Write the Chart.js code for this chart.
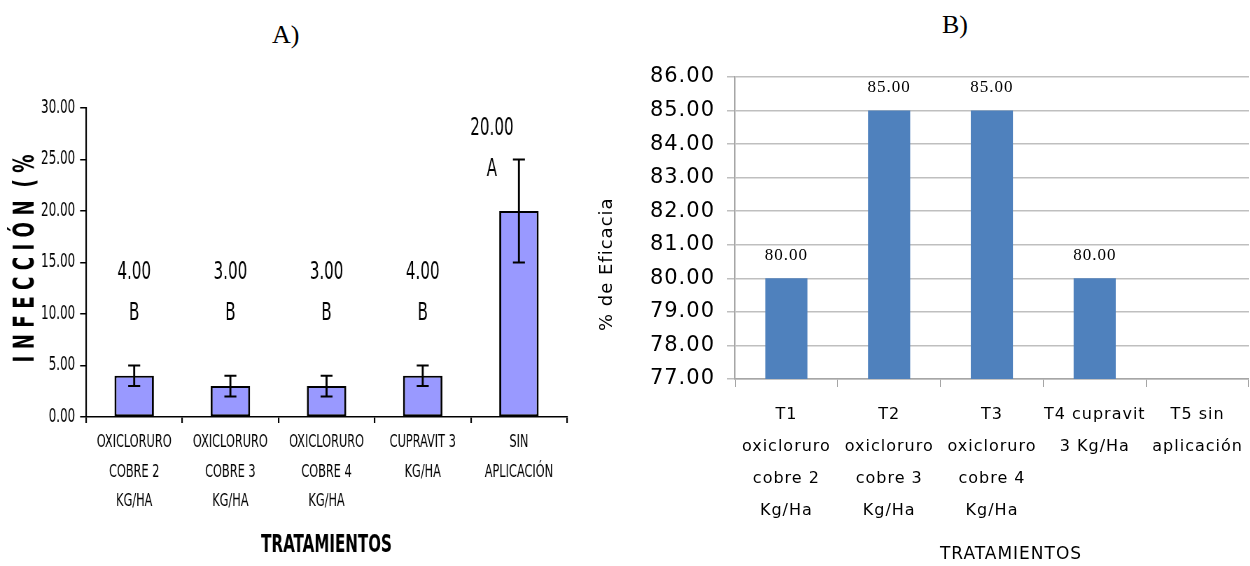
<!DOCTYPE html>
<html>
<head>
<meta charset="utf-8">
<script src="https://cdn.jsdelivr.net/npm/chart.js@4.4.1/dist/chart.umd.min.js"></script>
<style>
  body { margin: 0; background: #fff; width: 1250px; height: 566px; position: relative; overflow: hidden; }
  .box { position: absolute; }
  /* el grafico A se dibuja ancho y se comprime para imitar la letra estrecha */
  #wrapA { left: 0; top: 0; width: 857px; height: 566px; transform: scaleX(0.7); transform-origin: 0 0; }
  #wrapB { left: 590px; top: 0; width: 660px; height: 566px; }
  .lbl { position: absolute; font-family: 'Liberation Serif', serif; font-size: 26px; line-height: 30px; color: #000; }
</style>
</head>
<body>
<div class="lbl" style="left:272px;top:20px">A)</div>
<div class="lbl" style="left:942px;top:10px">B)</div>
<div class="box" id="wrapA"><canvas id="chartA"></canvas></div>
<div class="box" id="wrapB"><canvas id="chartB"></canvas></div>
<script>
// grafico A - infeccion
const tratamientosA = [
  ['OXICLORURO', 'COBRE 2', 'KG/HA'],
  ['OXICLORURO', 'COBRE 3', 'KG/HA'],
  ['OXICLORURO', 'COBRE 4', 'KG/HA'],
  ['CUPRAVIT 3', 'KG/HA'],
  ['SIN', 'APLICACIÓN']
];
const infeccion = [4, 3, 3, 4, 20];
const errInfeccion = [1, 1, 1, 1, 5];
const letras = ['B', 'B', 'B', 'B', 'A'];

// grafico B - eficacia
const tratamientosB = [
  ['T1', 'oxicloruro', 'cobre 2', 'Kg/Ha'],
  ['T2', 'oxicloruro', 'cobre 3', 'Kg/Ha'],
  ['T3', 'oxicloruro', 'cobre 4', 'Kg/Ha'],
  ['T4 cupravit', '3 Kg/Ha'],
  ['T5 sin', 'aplicación']
];
const eficacia = [80, 85, 85, 80, null];

const SX = 0.7; // compresion horizontal del grafico A
const cond = "'DejaVu Sans Condensed', 'DejaVu Sans', sans-serif";
const sansB = "'DejaVu Sans', sans-serif";

// barras de error, valores, letras y titulo del eje Y
const errorBarsA = {
  id: 'errorBarsA',
  afterDatasetsDraw(chart) {
    const { ctx, chartArea, scales: { x, y } } = chart;
    const cap = 6 / SX;
    ctx.save();
    ctx.strokeStyle = '#000';
    ctx.fillStyle = '#000';
    ctx.font = '24px ' + cond;
    ctx.textAlign = 'center';
    ctx.textBaseline = 'middle';
    infeccion.forEach((v, i) => {
      const cx = x.getPixelForValue(i);
      const top = v + errInfeccion[i];
      const yt = y.getPixelForValue(top);
      const yb = y.getPixelForValue(v - errInfeccion[i]);
      ctx.lineWidth = 2 / SX;
      ctx.beginPath();
      ctx.moveTo(cx, yt); ctx.lineTo(cx, yb);
      ctx.stroke();
      ctx.lineWidth = 2;
      ctx.beginPath();
      ctx.moveTo(cx - cap, yt); ctx.lineTo(cx + cap, yt);
      ctx.moveTo(cx - cap, yb); ctx.lineTo(cx + cap, yb);
      ctx.stroke();
      const lv = Math.max(14, top + 3);
      const shift = lv - 4 < top ? -27 / SX : 0;
      ctx.fillText(v.toFixed(2), cx + shift, y.getPixelForValue(lv));
      ctx.fillText(letras[i], cx + shift, y.getPixelForValue(lv - 4));
    });
    // titulo del eje Y
    ctx.save();
    ctx.translate(26 / SX, (chartArea.top + chartArea.bottom) / 2 - 4);
    ctx.rotate(-Math.PI / 2);
    ctx.scale(0.7, 1 / SX);
    ctx.font = 'bold 29px ' + cond;
    ctx.fillText('I N F E C C I Ó N  ( %', 0, 0);
    ctx.restore();
    ctx.restore();
  }
};

new Chart(document.getElementById('chartA'), {
  type: 'bar',
  data: {
    labels: tratamientosA,
    datasets: [{
      data: infeccion,
      backgroundColor: '#9999FF',
      borderColor: '#000',
      borderWidth: { top: 2, bottom: 2, left: 2 / SX, right: 2 / SX },
      borderSkipped: false,
      barPercentage: 0.41,
      categoryPercentage: 1
    }]
  },
  options: {
    responsive: true,
    maintainAspectRatio: false,
    animation: false,
    layout: { padding: { top: 108, right: 47, left: 0, bottom: 0 } },
    plugins: { legend: { display: false }, tooltip: { enabled: false } },
    scales: {
      x: {
        grid: { drawOnChartArea: false, color: '#000', tickLength: 6, lineWidth: 1.5 / SX },
        border: { color: '#000', width: 1.5 },
        ticks: { color: '#000', font: { family: cond, size: 18, lineHeight: 1.63 }, padding: 5, maxRotation: 0, autoSkip: false },
        title: { display: true, text: 'TRATAMIENTOS', color: '#000', font: { family: cond, size: 24, weight: 'bold' }, padding: { top: 0, bottom: 6 } },
        afterFit: s => { s.height = 149; }
      },
      y: {
        min: 0,
        max: 30,
        ticks: { stepSize: 5, color: '#000', font: { family: cond, size: 19 }, padding: 7, callback: v => v.toFixed(2) },
        grid: { drawOnChartArea: false, color: '#000', tickLength: 6 / SX, lineWidth: 1.5 },
        border: { color: '#000', width: 1.5 / SX },
        afterFit: s => { s.width = 123; }
      }
    }
  },
  plugins: [errorBarsA]
});

// grafico B: valores sobre barras y titulos de ejes
const labelsB = {
  id: 'labelsB',
  beforeDraw(chart) {
    chart.ctx.letterSpacing = '1px';
  },
  afterDatasetsDraw(chart) {
    const { ctx, chartArea, scales: { x, y } } = chart;
    ctx.save();
    ctx.fillStyle = '#000';
    ctx.textAlign = 'center';
    ctx.textBaseline = 'middle';
    ctx.font = "17px 'Liberation Serif', serif";
    eficacia.forEach((v, i) => {
      if (v == null) return;
      ctx.fillText(v.toFixed(2), x.getPixelForValue(i), y.getPixelForValue(v) - 23);
    });
    ctx.font = '18px ' + sansB;
    ctx.save();
    ctx.translate(17, chartArea.top + (chartArea.bottom - chartArea.top) * 0.62);
    ctx.rotate(-Math.PI / 2);
    ctx.fillText('% de Eficacia', 0, 0);
    ctx.restore();
    ctx.font = '17px ' + sansB;
    ctx.fillText('TRATAMIENTOS', (chartArea.left + chartArea.right) / 2 + 19, chart.height - 11);
    ctx.restore();
  }
};

new Chart(document.getElementById('chartB'), {
  type: 'bar',
  data: {
    labels: tratamientosB,
    datasets: [{
      data: eficacia,
      backgroundColor: '#4F81BD',
      barPercentage: 0.41,
      categoryPercentage: 1
    }]
  },
  options: {
    responsive: true,
    maintainAspectRatio: false,
    animation: false,
    layout: { padding: { top: 77, right: 1, left: 0, bottom: 0 } },
    plugins: { legend: { display: false }, tooltip: { enabled: false } },
    scales: {
      x: {
        grid: { drawOnChartArea: false, color: '#A6A6A6', tickLength: 8 },
        border: { color: '#A6A6A6', width: 1.5 },
        ticks: { color: '#000', font: { family: sansB, size: 16, lineHeight: 2 }, padding: 12, maxRotation: 0, autoSkip: false },
        afterFit: s => { s.height = 187; }
      },
      y: {
        min: 77,
        max: 86,
        ticks: { stepSize: 1, color: '#000', font: { family: sansB, size: 21 }, padding: 12, callback: v => v.toFixed(2) },
        grid: { color: '#BFBFBF', lineWidth: 1.5, tickLength: 8 },
        border: { color: '#A6A6A6', width: 1.5 },
        afterFit: s => { s.width = 145; }
      }
    }
  },
  plugins: [labelsB]
});
</script>
</body>
</html>
